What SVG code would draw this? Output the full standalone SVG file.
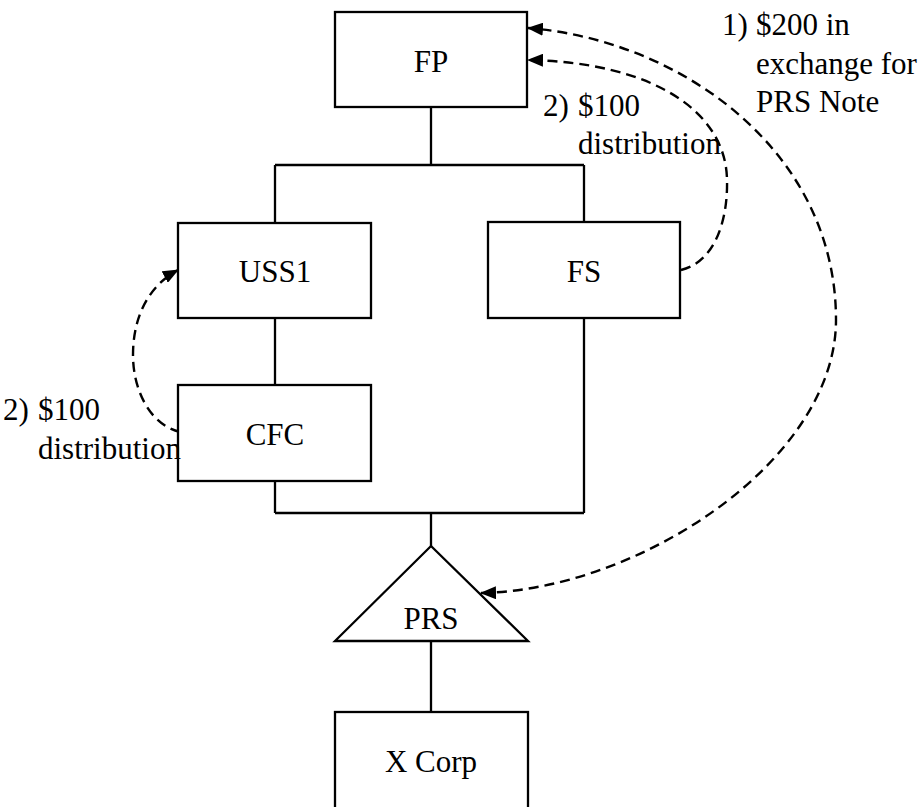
<svg xmlns="http://www.w3.org/2000/svg" width="924" height="807" viewBox="0 0 924 807">
<style>
.box{fill:#fff;stroke:#000;stroke-width:2.3}
.ln{fill:none;stroke:#000;stroke-width:2.3}
.dash{fill:none;stroke:#000;stroke-width:2.4;stroke-dasharray:10,6}
.t{font-family:'Liberation Serif','Times New Roman','DejaVu Serif',serif;font-size:31px;fill:#000}
.c{text-anchor:middle}
</style>
<defs>
<marker id="ah" viewBox="0 0 16 13" refX="15" refY="6.5" markerWidth="16" markerHeight="13" markerUnits="userSpaceOnUse" orient="auto-start-reverse">
<path d="M0,0 L16,6.5 L0,13 Z" fill="#000"/>
</marker>
</defs>
<rect width="924" height="807" fill="#fff"/>
<g id="connectors">
<path class="ln" d="M431,107 V165 M275,165 H584 M275,165 V223 M584,165 V222 M275,318 V385 M275,481 V513 M584,318 V513 M275,513 H584 M431,513 V546 M431,641 V712"/>
<path class="dash" d="M681,270 C715,262 728,220 727,180 C726,110 650,62 528,60" marker-end="url(#ah)"/>
<path class="dash" d="M481,593 C640,590 836,460 836,320 C836,150 680,40 528,28" marker-start="url(#ah)" marker-end="url(#ah)"/>
<path class="dash" d="M180,432 C150,425 133,390 133,355 C133,315 150,285 178,270" marker-end="url(#ah)"/>
</g>
<g id="FP"><rect class="box" x="335" y="12" width="192" height="95"/><text class="t c" font-family="Liberation Serif, serif" x="431" y="72">FP</text></g>
<g id="USS1"><rect class="box" x="178" y="223" width="193" height="95"/><text class="t c" font-family="Liberation Serif, serif" x="275" y="282">USS1</text></g>
<g id="FS"><rect class="box" x="488" y="222" width="192" height="96"/><text class="t c" font-family="Liberation Serif, serif" x="584" y="282">FS</text></g>
<g id="CFC"><rect class="box" x="178" y="385" width="193" height="96"/><text class="t c" font-family="Liberation Serif, serif" x="275" y="445">CFC</text></g>
<g id="PRS"><path class="box" d="M431,546 L528,641 L335,641 Z"/><text class="t c" font-family="Liberation Serif, serif" x="431" y="629">PRS</text></g>
<g id="XCorp"><rect class="box" x="335" y="712" width="193" height="120"/><text class="t c" font-family="Liberation Serif, serif" x="431" y="772">X Corp</text></g>
<g id="labels" font-family="Liberation Serif, serif">
<text class="t" x="722" y="35">1)</text><text class="t" x="756" y="35">$200 in</text>
<text class="t" x="756" y="74">exchange for</text>
<text class="t" x="756" y="112">PRS Note</text>
<text class="t" x="543" y="116">2)</text><text class="t" x="578" y="116">$100</text>
<text class="t" x="578" y="154">distribution</text>
<text class="t" x="3" y="420">2)</text><text class="t" x="38" y="420">$100</text>
<text class="t" x="38" y="459">distribution</text>
</g>
</svg>
